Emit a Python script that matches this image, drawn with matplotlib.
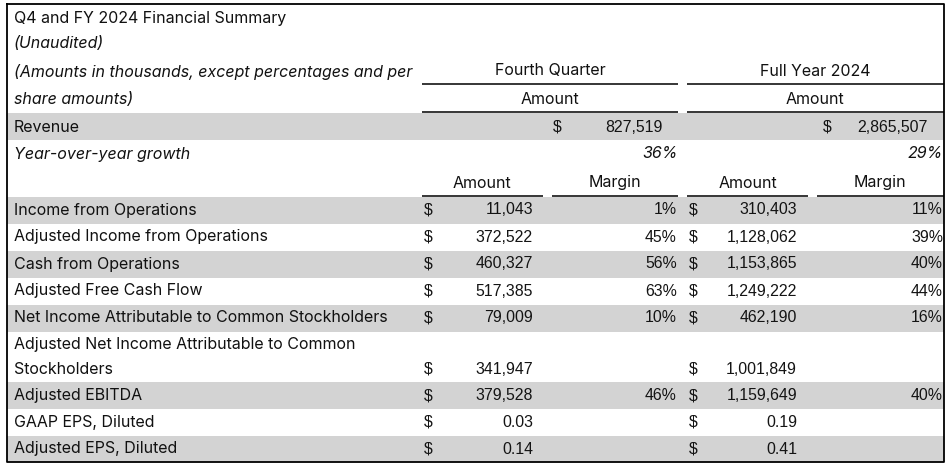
import matplotlib
matplotlib.use("Agg")
from matplotlib import pyplot as plt

# ---- data ----
revenue_q4 = 827519
revenue_fy = 2865507
growth_q4 = 36
growth_fy = 29

labels = [
    "Income from Operations",
    "Adjusted Income from Operations",
    "Cash from Operations",
    "Adjusted Free Cash Flow",
    "Net Income Attributable to Common Stockholders",
    "Adjusted Net Income Attributable to Common\nStockholders",
    "Adjusted EBITDA",
    "GAAP EPS, Diluted",
    "Adjusted EPS, Diluted",
]
q4_amount = [11043, 372522, 460327, 517385, 79009, 341947, 379528, 0.03, 0.14]
q4_margin = [1, 45, 56, 63, 10, None, 46, None, None]
fy_amount = [310403, 1128062, 1153865, 1249222, 462190, 1001849, 1159649, 0.19, 0.41]
fy_margin = [11, 39, 40, 44, 16, None, 40, None, None]


def fmt(v):
    if v < 10:
        return f"{v:.2f}"
    return f"{v:,.0f}"


plt.rcParams['font.family'] = ['Liberation Sans', 'DejaVu Sans']
LABEL_FONT = ['Inter', 'Liberation Sans', 'DejaVu Sans']
FS = 11.4
LFS = 11.5
GRAY = '#d3d3d3'

fig = plt.figure(figsize=(9.53, 4.70), dpi=100)
ax = fig.add_axes([0, 0, 1, 1])
ax.set_xlim(0, 953)
ax.set_ylim(470, 0)
ax.axis('off')

L, R = 7, 944
TOP, BOT = 4, 462


def band(y0, y1, color=GRAY):
    ax.axhspan(y0, y1, xmin=L / 953, xmax=R / 953, color=color, lw=0, zorder=0)


def txt(x, y, s, ha='left', **kw):
    ax.text(x, y, s, ha=ha, va='center', fontsize=FS, color='#141414', **kw)


def lab(x, y, s, ha='left', **kw):
    ax.text(x, y, s, ha=ha, va='center', fontsize=LFS, color='#111111',
            family=LABEL_FONT, **kw)


def hline(y, x0, x1):
    ax.plot([x0, x1], [y, y], color='black', lw=1.1, solid_capstyle='butt')


# header block
lab(14, 18, "Q4 and FY 2024 Financial Summary")
lab(14, 44, "(Unaudited)", style='italic')
lab(14, 72, "(Amounts in thousands, except percentages and per", style='italic')
lab(14, 100, "share amounts)", style='italic')

lab(550, 71, "Fourth Quarter", ha='center')
lab(815, 71, "Full Year 2024", ha='center')
hline(84, 422, 678)
hline(84, 687, R)
lab(550, 99, "Amount", ha='center')
lab(815, 99, "Amount", ha='center')
hline(112, 422, 678)
hline(112, 687, R)

# revenue row
band(113, 140)
lab(14, 127, "Revenue")
txt(557, 127, "$", ha='center')
txt(663, 127, fmt(revenue_q4), ha='right')
txt(827, 127, "$", ha='center')
txt(928, 127, fmt(revenue_fy), ha='right')

lab(14, 154, "Year-over-year growth", style='italic')
lab(678, 154, f"{growth_q4}%", ha='right', style='italic')
lab(943, 154, f"{growth_fy}%", ha='right', style='italic')

# column headers
lab(482, 183, "Amount", ha='center')
lab(615, 183, "Margin", ha='center')
lab(748, 183, "Amount", ha='center')
lab(880, 183, "Margin", ha='center')
hline(195.5, 422, 543)
hline(195.5, 552, 678)
hline(195.5, 687, 808)
hline(195.5, 817, R)

# body rows
y = 196.5
row_h = 27
for i, name in enumerate(labels):
    nlines = name.count("\n") + 1
    h = row_h if nlines == 1 else 50.5
    y1 = min(y + h, BOT)
    if i % 2 == 0:
        band(y, y1)
    ty = (y + y1) / 2
    if nlines > 1:
        first, second = name.split("\n")
        lab(14, y + 12.5, first)
        lab(14, y + 37.5, second)
        ty = y + 37.5
    else:
        lab(14, ty, name)
    txt(428, ty, "$", ha='center')
    txt(533, ty, fmt(q4_amount[i]), ha='right')
    if q4_margin[i] is not None:
        txt(677, ty, f"{q4_margin[i]}%", ha='right')
    txt(693, ty, "$", ha='center')
    txt(797, ty, fmt(fy_amount[i]), ha='right')
    if fy_margin[i] is not None:
        txt(943, ty, f"{fy_margin[i]}%", ha='right')
    y = y1

# outer border
ax.plot([L, R, R, L, L], [TOP, TOP, BOT, BOT, TOP], color='black', lw=1.3)

fig.savefig("out.png", dpi=100)
